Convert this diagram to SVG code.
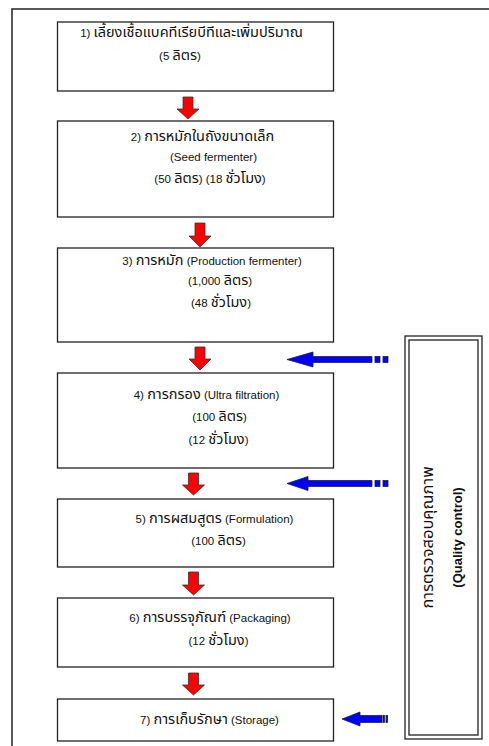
<svg xmlns="http://www.w3.org/2000/svg" width="489" height="746" viewBox="0 0 489 746">
<style>
.frame{fill:none;stroke:#222;stroke-width:1.5}
.box{fill:#fff;stroke:#222;stroke-width:1.3}
.t{font-family:"Liberation Sans","Noto Sans Thai","Tahoma","DejaVu Sans",sans-serif;font-size:11.5px;fill:#111;text-anchor:middle}
.th{font-size:14.5px}
.qc{font-family:"Liberation Sans","Noto Sans Thai","Tahoma","DejaVu Sans",sans-serif;font-size:13px;fill:#111;text-anchor:middle}
.qth{font-size:16.5px}
.b{font-weight:bold}
.red{fill:#ff0000;stroke:#333;stroke-width:0.8}
.blue{fill:#0000ff;stroke:#222;stroke-width:0.8}
</style>
<rect width="489" height="746" fill="#fff"/>
<path class="frame" d="M12,760 V9 H500"/>
<g id="node1"><rect class="box" x="57.5" y="22" width="276" height="69"/>
<text class="t" x="191.5" y="37">1) <tspan class="th">เลี้ยงเชื้อแบคทีเรียบีทีและเพิ่มปริมาณ</tspan></text>
<text class="t" x="180" y="60">(5 <tspan class="th">ลิตร</tspan>)</text></g>
<g id="node2"><rect class="box" x="57.5" y="121" width="276" height="96"/>
<text class="t" x="202.5" y="141">2) <tspan class="th">การหมักในถังขนาดเล็ก</tspan></text>
<text class="t" x="213.5" y="161">(Seed fermenter)</text>
<text class="t" x="210" y="183">(50 <tspan class="th">ลิตร</tspan>) (18 <tspan class="th">ชั่วโมง</tspan>)</text></g>
<g id="node3"><rect class="box" x="57.5" y="248" width="276" height="94"/>
<text class="t" x="212" y="265">3) <tspan class="th">การหมัก</tspan> (Production fermenter)</text>
<text class="t" x="220" y="285">(1,000 <tspan class="th">ลิตร</tspan>)</text>
<text class="t" x="221" y="307">(48 <tspan class="th">ชั่วโมง</tspan>)</text></g>
<g id="node4"><rect class="box" x="57.5" y="373" width="276" height="95"/>
<text class="t" x="206.5" y="399">4) <tspan class="th">การกรอง</tspan> (Ultra filtration)</text>
<text class="t" x="219.5" y="421">(100 <tspan class="th">ลิตร</tspan>)</text>
<text class="t" x="218.5" y="444">(12 <tspan class="th">ชั่วโมง</tspan>)</text></g>
<g id="node5"><rect class="box" x="57.5" y="499" width="276" height="68"/>
<text class="t" x="214.5" y="523">5) <tspan class="th">การผสมสูตร</tspan> (Formulation)</text>
<text class="t" x="218.5" y="545">(100 <tspan class="th">ลิตร</tspan>)</text></g>
<g id="node6"><rect class="box" x="57.5" y="598" width="276" height="69"/>
<text class="t" x="210" y="622">6) <tspan class="th">การบรรจุภัณฑ์</tspan> (Packaging)</text>
<text class="t" x="218.5" y="645">(12 <tspan class="th">ชั่วโมง</tspan>)</text></g>
<g id="node7"><rect class="box" x="57.5" y="699" width="276" height="42"/>
<text class="t" x="209.5" y="724">7) <tspan class="th">การเก็บรักษา</tspan> (Storage)</text></g>
<g id="qc"><rect x="405" y="336" width="77" height="403" fill="#fff" stroke="#222" stroke-width="1.3"/>
<rect x="409" y="340" width="69" height="395" fill="none" stroke="#222" stroke-width="1.3"/>
<text class="qc qth" transform="translate(433,537.5) rotate(-90)">การตรวจสอบคุณภาพ</text>
<text class="qc b" transform="translate(462,537.5) rotate(-90)">(Quality control)</text></g>
<g id="connectors">
<path class="red" d="M183,97 h10 v12 h6 l-11,10 l-11,-10 h6 z"/>
<path class="red" d="M195,223 h10 v13 h6 l-11,11 l-11,-11 h6 z"/>
<path class="red" d="M195,347 h10 v12 h6 l-11,11 l-11,-11 h6 z"/>
<path class="red" d="M188.5,473 h10 v12 h6 l-11,10 l-11,-10 h6 z"/>
<path class="red" d="M188.5,572 h10 v13 h6 l-11,10 l-11,-10 h6 z"/>
<path class="red" d="M188.5,673 h10 v12 h6 l-11,10 l-11,-10 h6 z"/>
<path class="blue" d="M287,359.5 L313,352 v4.5 h59 v6 h-59 v4.5 z"/>
<rect class="blue" x="375" y="356.5" width="5" height="6"/>
<rect class="blue" x="383" y="356.5" width="5" height="6"/>
<path class="blue" d="M287,483.5 L308,476.5 v4 h64 v6 h-64 v4 z"/>
<rect class="blue" x="375" y="480.5" width="5" height="6"/>
<rect class="blue" x="383" y="480.5" width="5" height="6"/>
<path class="blue" d="M342,719 L360,712 v3.5 h22 v7 h-22 v3.5 z"/>
<rect class="blue" x="383" y="715.5" width="1.5" height="7"/>
<rect class="blue" x="386" y="715.5" width="1.5" height="7"/>
</g>
</svg>
